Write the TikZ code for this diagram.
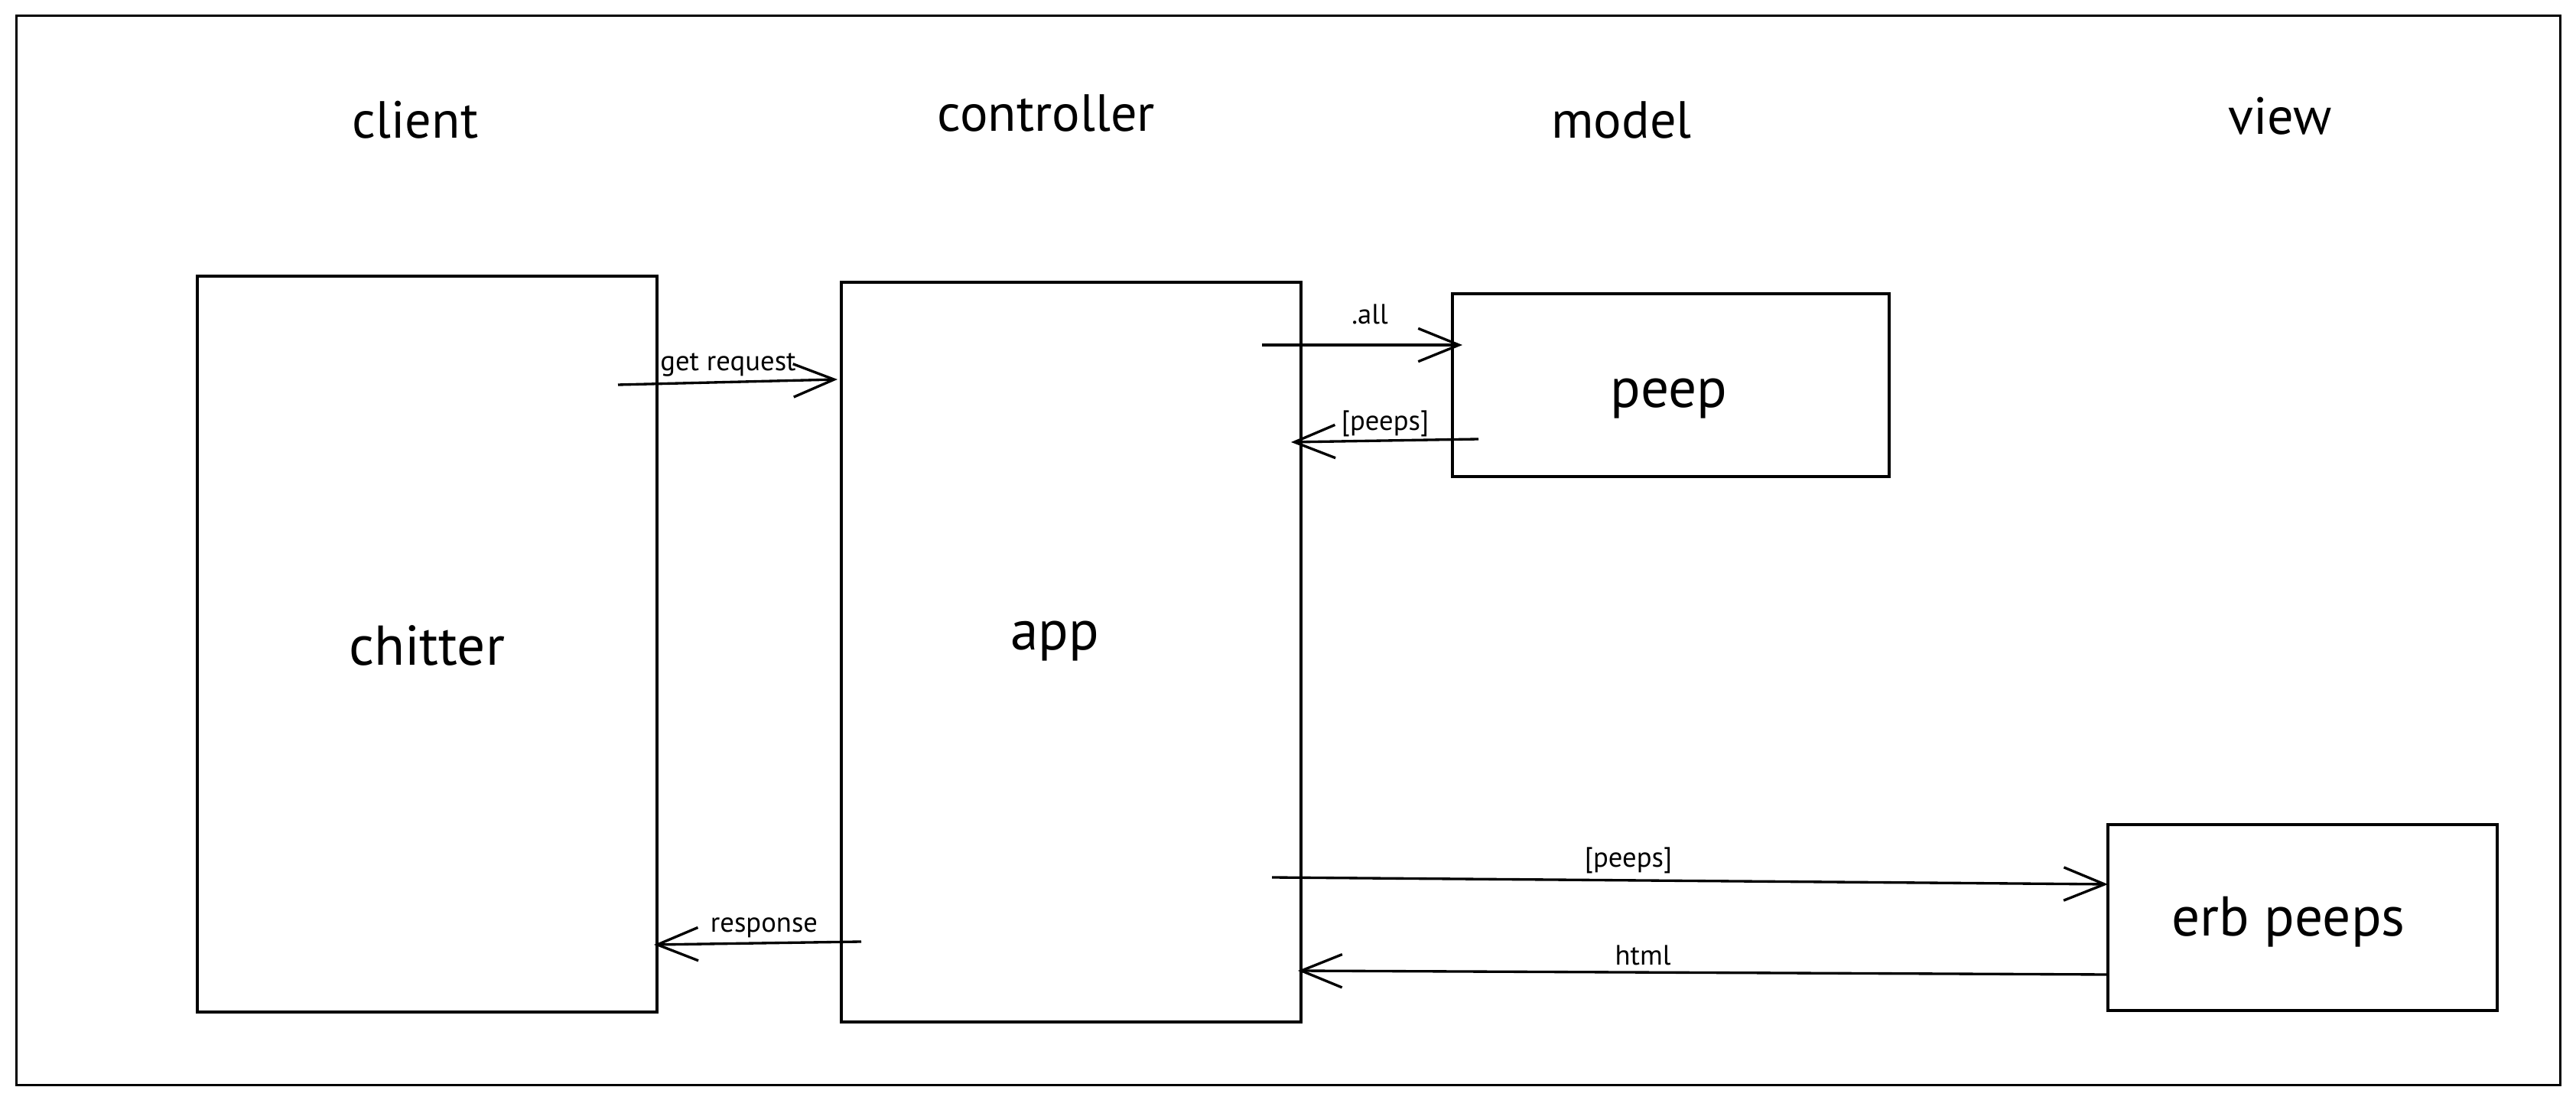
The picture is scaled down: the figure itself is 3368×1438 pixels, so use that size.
\documentclass[tikz,border=0pt]{standalone}
\usepackage{fontspec}
\setmainfont{PT Sans}
\usetikzlibrary{arrows.meta}
\begin{document}
\begin{tikzpicture}[x=0.3pt,y=-0.3pt,
  box/.style={draw=black,line width=1pt},
  header/.style={font=\fontsize{20.5}{24}\selectfont,inner sep=0pt},
  main/.style={font=\fontsize{22}{26}\selectfont,inner sep=0pt},
  lbl/.style={font=\fontsize{11}{13}\selectfont,inner sep=0pt},
  flow/.style={draw=black,line width=1pt,-{Straight Barb[length=16pt,width=13pt,line width=1pt]}}]
\useasboundingbox (0,0) rectangle (3368,1438);
\fill[white] (0,0) rectangle (3368,1438);
\draw[line width=0.9pt] (21,21) rectangle (3347,1418);
% headers
\node[header] (hclient) at (543,157) {client};
\node[header] (hcontroller) at (1368,148) {controller};
\node[header] (hmodel) at (2120,157) {model};
\node[header] (hview) at (2981,152) {view};
% boxes
\draw[box] (258,361) rectangle (859,1323);
\node[main] (chitter) at (558,844) {chitter};
\draw[box] (1100,369) rectangle (1701,1336);
\node[main] (app) at (1379,838) {app};
\draw[box] (1899,384) rectangle (2470,623);
\node[main] (peep) at (2182,521) {peep};
\draw[box] (2756,1078) rectangle (3265,1321);
\node[main] (erb) at (2992,1205) {erb peeps};
% arrow end points
\coordinate (gr1) at (808,503); \coordinate (gr2) at (1095,496);
\coordinate (al1) at (1650,451); \coordinate (al2) at (1912,451);
\coordinate (pu1) at (1933,574); \coordinate (pu2) at (1688,578);
\coordinate (pl1) at (1663,1147); \coordinate (pl2) at (2756,1156);
\coordinate (ht1) at (2756,1274); \coordinate (ht2) at (1697,1269);
\coordinate (rs1) at (1126,1231); \coordinate (rs2) at (855,1235);
\draw[flow] (gr1) -- (gr2);
\draw[flow] (al1) -- (al2);
\draw[flow] (pu1) -- (pu2);
\draw[flow] (pl1) -- (pl2);
\draw[flow] (ht1) -- (ht2);
\draw[flow] (rs1) -- (rs2);
% labels
\node[lbl] (lgr) at (952,477) {get request};
\node[lbl] (lal) at (1791,411) {.all};
\node[lbl] (lpu) at (1811,554) {[peeps]};
\node[lbl] (lpl) at (2129,1125) {[peeps]};
\node[lbl] (lht) at (2148,1249) {html};
\node[lbl] (lrs) at (999,1213) {response};
\end{tikzpicture}
\end{document}
